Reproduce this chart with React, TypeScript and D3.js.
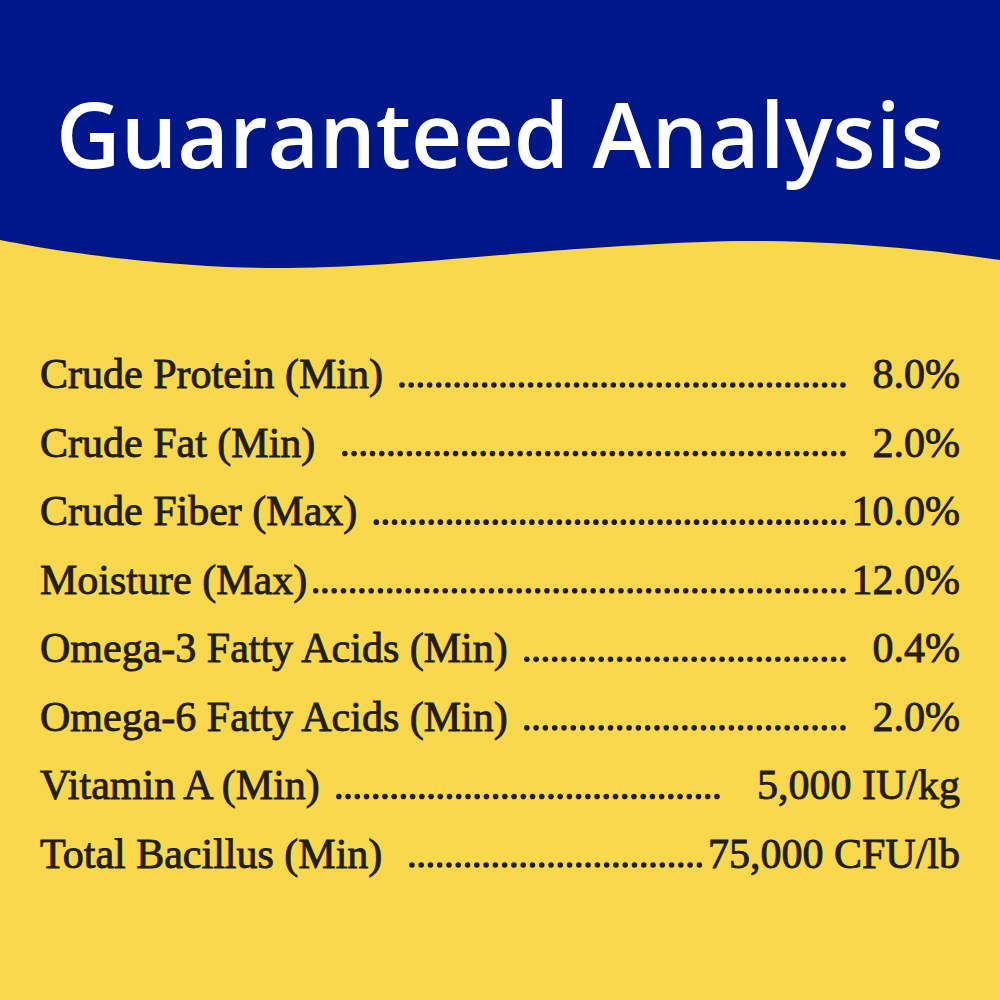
import React, { useRef, useEffect } from 'react';
import * as d3 from 'd3';

const title = 'Guaranteed Analysis';

// trailing no-break spaces keep the gaps before the dot leaders
const nutrients = [
  'Crude Protein (Min)\u00a0',
  'Crude Fat (Min)\u00a0\u00a0',
  'Crude Fiber (Max)\u00a0',
  'Moisture (Max)',
  'Omega-3 Fatty Acids (Min)\u00a0',
  'Omega-6 Fatty Acids (Min)\u00a0',
  'Vitamin A (Min)\u00a0',
  'Total Bacillus (Min)\u00a0\u00a0',
];

const amounts = [
  '\u00a0\u00a08.0%',
  '\u00a0\u00a02.0%',
  '10.0%',
  '12.0%',
  '\u00a0\u00a00.4%',
  '\u00a0\u00a02.0%',
  '\u00a0\u00a0\u00a05,000 IU/kg',
  '75,000 CFU/lb',
];

// boundary between the blue header and the yellow body, [x, y]
const wave: [number, number][] = [
  [0, 240],
  [100, 256],
  [287, 268],
  [500, 255],
  [640, 245],
  [765, 241],
  [900, 248],
  [1000, 260],
];

const W = 1000;
const H = 1000;
const NAVY = '#00178a';
const YELLOW = '#f9d84d';
const INK = '#231e12';

const App: React.FC = () => {
  const svgRef = useRef<SVGSVGElement>(null);

  useEffect(() => {
    document.body.style.margin = '0';
    if (!svgRef.current) return;
    const svg = d3.select(svgRef.current);
    svg.selectAll('*').remove();

    svg.append('rect').attr('width', W).attr('height', H).attr('fill', YELLOW);

    // header with wavy bottom edge
    const x = d3.scaleLinear().domain([0, 1000]).range([0, W]);
    const line = d3.line<[number, number]>()
      .x((d) => x(d[0]))
      .y((d) => d[1])
      .curve(d3.curveNatural);
    const edge = line(wave.slice().reverse()) || '';
    svg.append('path')
      .attr('d', `M0,0 L${W},0 ${edge.replace(/^M/, 'L')} Z`)
      .attr('fill', NAVY);

    svg.append('text')
      .attr('x', W / 2)
      .attr('y', 168)
      .attr('text-anchor', 'middle')
      .attr('font-family', '"Open Sans", Lato, sans-serif')
      .attr('font-weight', 600)
      .attr('font-size', 90)
      .attr('fill', '#ffffff')
      .attr('textLength', 888)
      .attr('lengthAdjust', 'spacingAndGlyphs')
      .text(title);

    // rows
    const y = d3.scalePoint<number>()
      .domain(d3.range(nutrients.length))
      .range([388, 868]);

    const left = 40;
    const right = 960;
    const gap = 4;
    const dotStep = 9.1;

    const rows = svg.append('g')
      .attr('font-family', '"Liberation Serif", "Times New Roman", serif')
      .attr('font-size', 42)
      .attr('fill', INK)
      .attr('stroke', INK)
      .attr('stroke-width', 0.9);

    nutrients.forEach((name, i) => {
      const yy = y(i) as number;
      const label = rows.append('text').attr('x', left).attr('y', yy).text(name);
      const value = rows.append('text')
        .attr('x', right)
        .attr('y', yy)
        .attr('text-anchor', 'end')
        .text(amounts[i]);
      const labelEnd = left + (label.node() as SVGTextElement).getComputedTextLength();
      const valueStart = right - (value.node() as SVGTextElement).getComputedTextLength();
      const x0 = labelEnd + gap;
      const x1 = valueStart - gap;
      const n = Math.max(0, Math.floor((x1 - x0) / dotStep));
      const step = (x1 - x0 - dotStep) / Math.max(1, n - 1);
      rows.append('g')
        .attr('stroke', 'none')
        .selectAll('circle')
        .data(d3.range(n))
        .join('circle')
        .attr('cx', (k) => x0 + dotStep / 2 + k * step)
        .attr('cy', yy - 3)
        .attr('r', 2.8);
    });
  }, []);

  return (
    <div>
      <svg ref={svgRef} width={W} height={H} style={{ display: 'block' }} />
    </div>
  );
};

export default App;
